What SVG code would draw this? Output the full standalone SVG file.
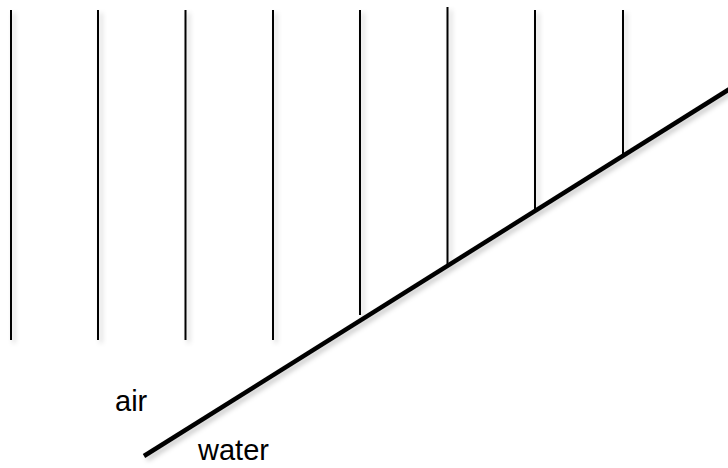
<svg xmlns="http://www.w3.org/2000/svg" width="728" height="468" viewBox="0 0 728 468">
<defs>
<filter id="sh" x="-20%" y="-20%" width="140%" height="140%">
<feDropShadow dx="3" dy="3" stdDeviation="2.5" flood-color="#000" flood-opacity="0.22"/>
</filter>
<style>
.v{stroke:#000;stroke-width:2;fill:none}
.d{stroke:#000;stroke-width:4.5;fill:none}
.t{font-family:"Liberation Sans",Arial,sans-serif;font-size:29px;fill:#000}
</style>
</defs>
<rect width="728" height="468" fill="#fff"/>
<g id="rays" filter="url(#sh)">
<line class="v" x1="11" y1="10" x2="11" y2="340"/>
<line class="v" x1="98" y1="10" x2="98" y2="340"/>
<line class="v" x1="185.5" y1="10" x2="185.5" y2="340"/>
<line class="v" x1="273" y1="10" x2="273" y2="340"/>
<line class="v" x1="360" y1="10" x2="360" y2="315"/>
<line class="v" x1="447.5" y1="7" x2="447.5" y2="264"/>
<line class="v" x1="535" y1="10" x2="535" y2="209"/>
<line class="v" x1="623" y1="10" x2="623" y2="154"/>
</g>
<g id="surface" filter="url(#sh)">
<line class="d" x1="144" y1="456" x2="740" y2="82.5"/>
</g>
<g id="labels">
<text class="t" x="115" y="411">air</text>
<text class="t" x="198" y="460">water</text>
</g>
</svg>
